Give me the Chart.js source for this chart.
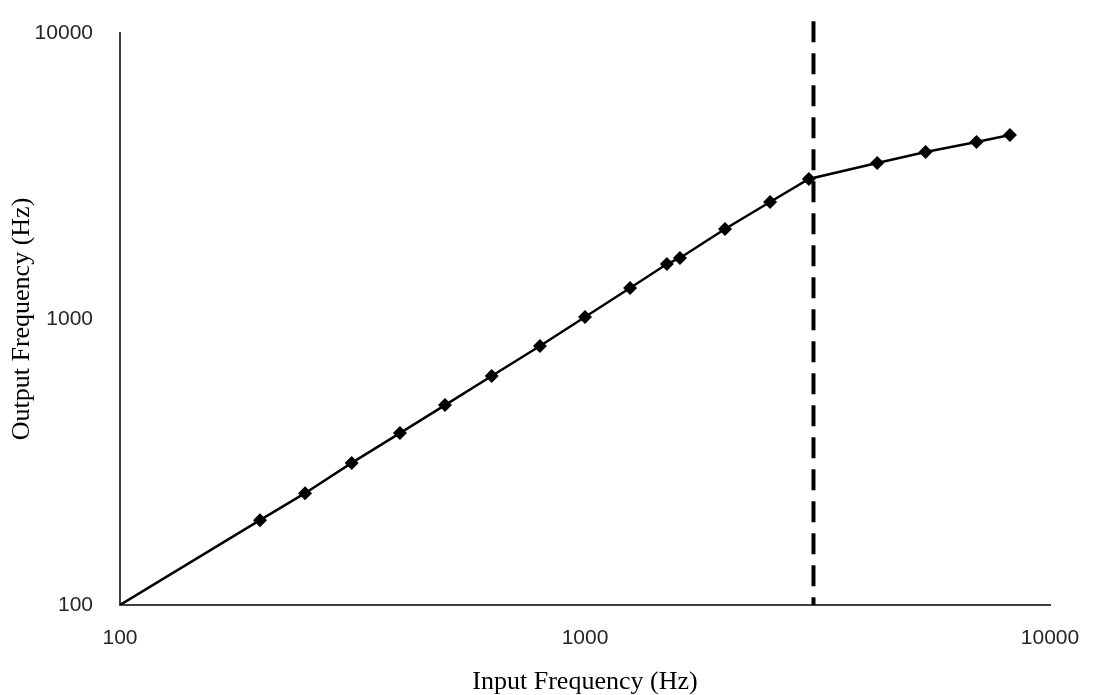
<!DOCTYPE html>
<html>
<head>
<meta charset="utf-8">
<script src="https://cdn.jsdelivr.net/npm/chart.js@4"></script>
<style>
    body { margin: 0; background: #fff; }
    #wrap { width: 1093px; height: 695px; position: relative; }
</style>
</head>
<body>
<div id="wrap"><canvas id="freq-chart"></canvas></div>
<script>
// Values (log-log axes)
const inputFreq = [100, 200, 250, 315, 400, 500, 630, 800, 1000, 1250, 1500, 1600, 2000, 2500, 3030, 4250, 5400, 6950, 8200];
const outputFreq = [100, 198, 246, 314, 399, 500, 632, 805, 1016, 1283, 1557, 1634, 2064, 2566, 3088, 3512, 3837, 4158, 4398];

// Dashed cutoff marker
const cutoffFreq = 3100;
const cutoffSpan = [11000, 100];

// Tick labels
const xTicks = [100, 1000, 10000];
const yTicks = [100, 1000, 10000];

const axisColor = '#404040';
const labelColor = '#262626';
const tickFont = { family: 'Liberation Sans, Arial, sans-serif', size: 21 };
const titleFont = { family: 'Liberation Serif, Times New Roman, serif', size: 26, lineHeight: 1.0 };

var ctx = document.getElementById('freq-chart').getContext('2d');

// invisible tick marks are used as label spacing (ticks.padding would also pad the chart area)
function hiddenTicks(len) {
    return { display: true, drawOnChartArea: false, drawTicks: true, tickLength: len, tickColor: 'rgba(0,0,0,0)', color: 'rgba(0,0,0,0)' };
}

var freqChart = new Chart(ctx, {
    type: 'line',
    data: {
        datasets: [{
            label: 'Output',
            data: inputFreq.map((x, i) => ({ x: x, y: outputFreq[i] })),
            borderColor: '#000',
            backgroundColor: '#000',
            borderWidth: 2.5,
            pointStyle: 'rectRot',
            // no marker on the origin point
            pointRadius: c => c.dataIndex === 0 ? 0 : 7,
            pointBorderWidth: 0,
            tension: 0
        }, {
            label: 'Cutoff',
            data: cutoffSpan.map(y => ({ x: cutoffFreq, y: y })),
            borderColor: '#000',
            borderWidth: 4,
            borderDash: [21, 11],
            pointRadius: 0,
            clip: false
        }]
    },
    options: {
        responsive: true,
        maintainAspectRatio: false,
        animation: false,
        layout: { autoPadding: false, padding: { top: 33, right: 43, left: 0, bottom: 0 } },
        plugins: {
            legend: { display: false },
            tooltip: { enabled: false }
        },
        scales: {
            x: {
                type: 'logarithmic',
                min: 100,
                max: 10000,
                afterBuildTicks: axis => { axis.ticks = xTicks.map(v => ({ value: v })); },
                afterFit: axis => { axis.height = 90; },
                grid: hiddenTicks(21),
                border: { display: true, color: axisColor, width: 2 },
                ticks: {
                    padding: 0,
                    color: labelColor,
                    font: tickFont,
                    maxRotation: 0,
                    callback: v => String(v)
                },
                title: {
                    display: true,
                    text: 'Input Frequency (Hz)',
                    color: '#000',
                    font: titleFont,
                    padding: { top: 0, bottom: 0 }
                }
            },
            y: {
                type: 'logarithmic',
                min: 100,
                max: 10000,
                afterBuildTicks: axis => { axis.ticks = yTicks.map(v => ({ value: v })); },
                afterFit: axis => { axis.width = 120; },
                grid: hiddenTicks(27),
                border: { display: true, color: axisColor, width: 2 },
                ticks: {
                    padding: 0,
                    color: labelColor,
                    font: tickFont,
                    callback: v => String(v)
                },
                title: {
                    display: true,
                    text: 'Output Frequency (Hz)',
                    color: '#000',
                    font: titleFont,
                    padding: { top: 9, bottom: 0 }
                }
            }
        }
    }
});
</script>
</body>
</html>
